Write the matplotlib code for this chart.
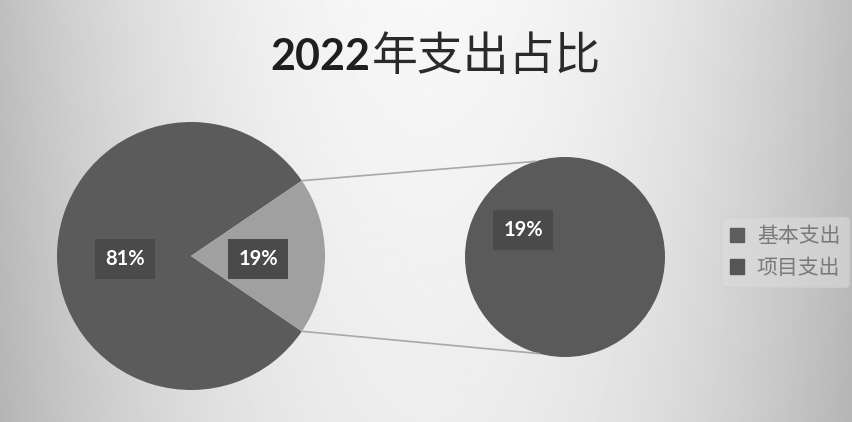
import numpy as np
import matplotlib
matplotlib.use("Agg")
import matplotlib.pyplot as plt
from matplotlib.patches import Patch

plt.rcParams['font.family'] = ['Lato', 'Noto Sans CJK SC', 'DejaVu Sans']

title_year = "2022"
title_rest = "年支出占比"
categories = ["基本支出", "项目支出"]
main_values = [81, 19]
main_labels = ["81%", "19%"]
sub_values = [19]
sub_labels = ["19%"]

W, H = 853, 422
fig = plt.figure(figsize=(W / 100, H / 100), dpi=100)
ax = fig.add_axes([0, 0, 1, 1])

# background gradient (scan look)
xs = np.linspace(-1, 1, 400)
ys = np.linspace(0, 1, 200)
X, Y = np.meshgrid(xs, ys)
bg = 0.97 - 0.22 * np.abs(X) ** 2.0 - 0.04 * Y
ax.imshow(bg, extent=[0, W, 0, H], origin='upper', cmap='gray', vmin=0, vmax=1,
          aspect='auto', zorder=0, interpolation='bilinear')

# main pie
c1 = (191, 166)
r1 = 134
half = 360 * main_values[1] / sum(main_values) / 2
wedges1, _ = ax.pie(main_values, center=c1, radius=r1, startangle=half,
                    colors=['#5b5b5b', '#a0a0a0'], frame=True,
                    wedgeprops=dict(linewidth=0))
# sub pie
c2 = (565, 165)
r2 = 100
wedges2, _ = ax.pie(sub_values, center=c2, radius=r2, colors=['#5a5a5a'], frame=True,
                    wedgeprops=dict(linewidth=0))
ax.set_xlim(0, W)
ax.set_ylim(0, H)
ax.set_aspect('equal')
ax.axis('off')

# connector lines
for a1, a2 in [(half, 107), (-half, -105)]:
    p1 = (c1[0] + r1 * np.cos(np.radians(a1)), c1[1] + r1 * np.sin(np.radians(a1)))
    p2 = (c2[0] + r2 * np.cos(np.radians(a2)), c2[1] + r2 * np.sin(np.radians(a2)))
    ax.plot([p1[0], p2[0]], [p1[1], p2[1]], color='#a8a8a8', lw=1.2, zorder=1)

box = dict(boxstyle='square,pad=0.5', fc='#4a4a4a', ec='none')
lab_kw = dict(color='white', fontsize=14.5, fontweight='bold', ha='center', va='center',
              bbox=box, zorder=5)
ax.text(c1[0] - 0.49 * r1, c1[1] - 0.02 * r1, main_labels[0], **lab_kw)
ax.text(c1[0] + 0.5 * r1, c1[1] - 0.02 * r1, main_labels[1], **lab_kw)
ax.text(c2[0] - 0.42 * r2, c2[1] + 0.27 * r2, sub_labels[0], **lab_kw)

t1 = ax.text(270, H - 57, title_year, fontsize=31, fontweight='bold', color='#1e1e1e',
             ha='left', va='center', zorder=5)
ax.annotate(title_rest, xy=(1, 0.5), xycoords=t1, xytext=(1, 0), textcoords='offset points',
            fontsize=33, fontweight='normal', color='#2a2a2a', ha='left', va='center',
            family=['Noto Sans CJK SC', 'DejaVu Sans'], zorder=5)

handles = [Patch(color='#5e5e5e'), Patch(color='#555555')]
leg = ax.legend(handles, categories, loc='center left', bbox_to_anchor=(711 / W, 170 / H),
                fontsize=15, frameon=True, handlelength=0.7, handleheight=0.7,
                handletextpad=0.6, labelspacing=0.45, borderpad=0.4)
leg.get_frame().set_facecolor('#dcdcdc')
leg.get_frame().set_edgecolor('#cfcfcf')
leg.get_frame().set_alpha(0.6)
for t in leg.get_texts():
    t.set_color('#7a7a7a')
    t.set_family(['Noto Sans CJK SC', 'DejaVu Sans'])
    t.set_fontweight('light')

fig.savefig('out.png', dpi=100)
